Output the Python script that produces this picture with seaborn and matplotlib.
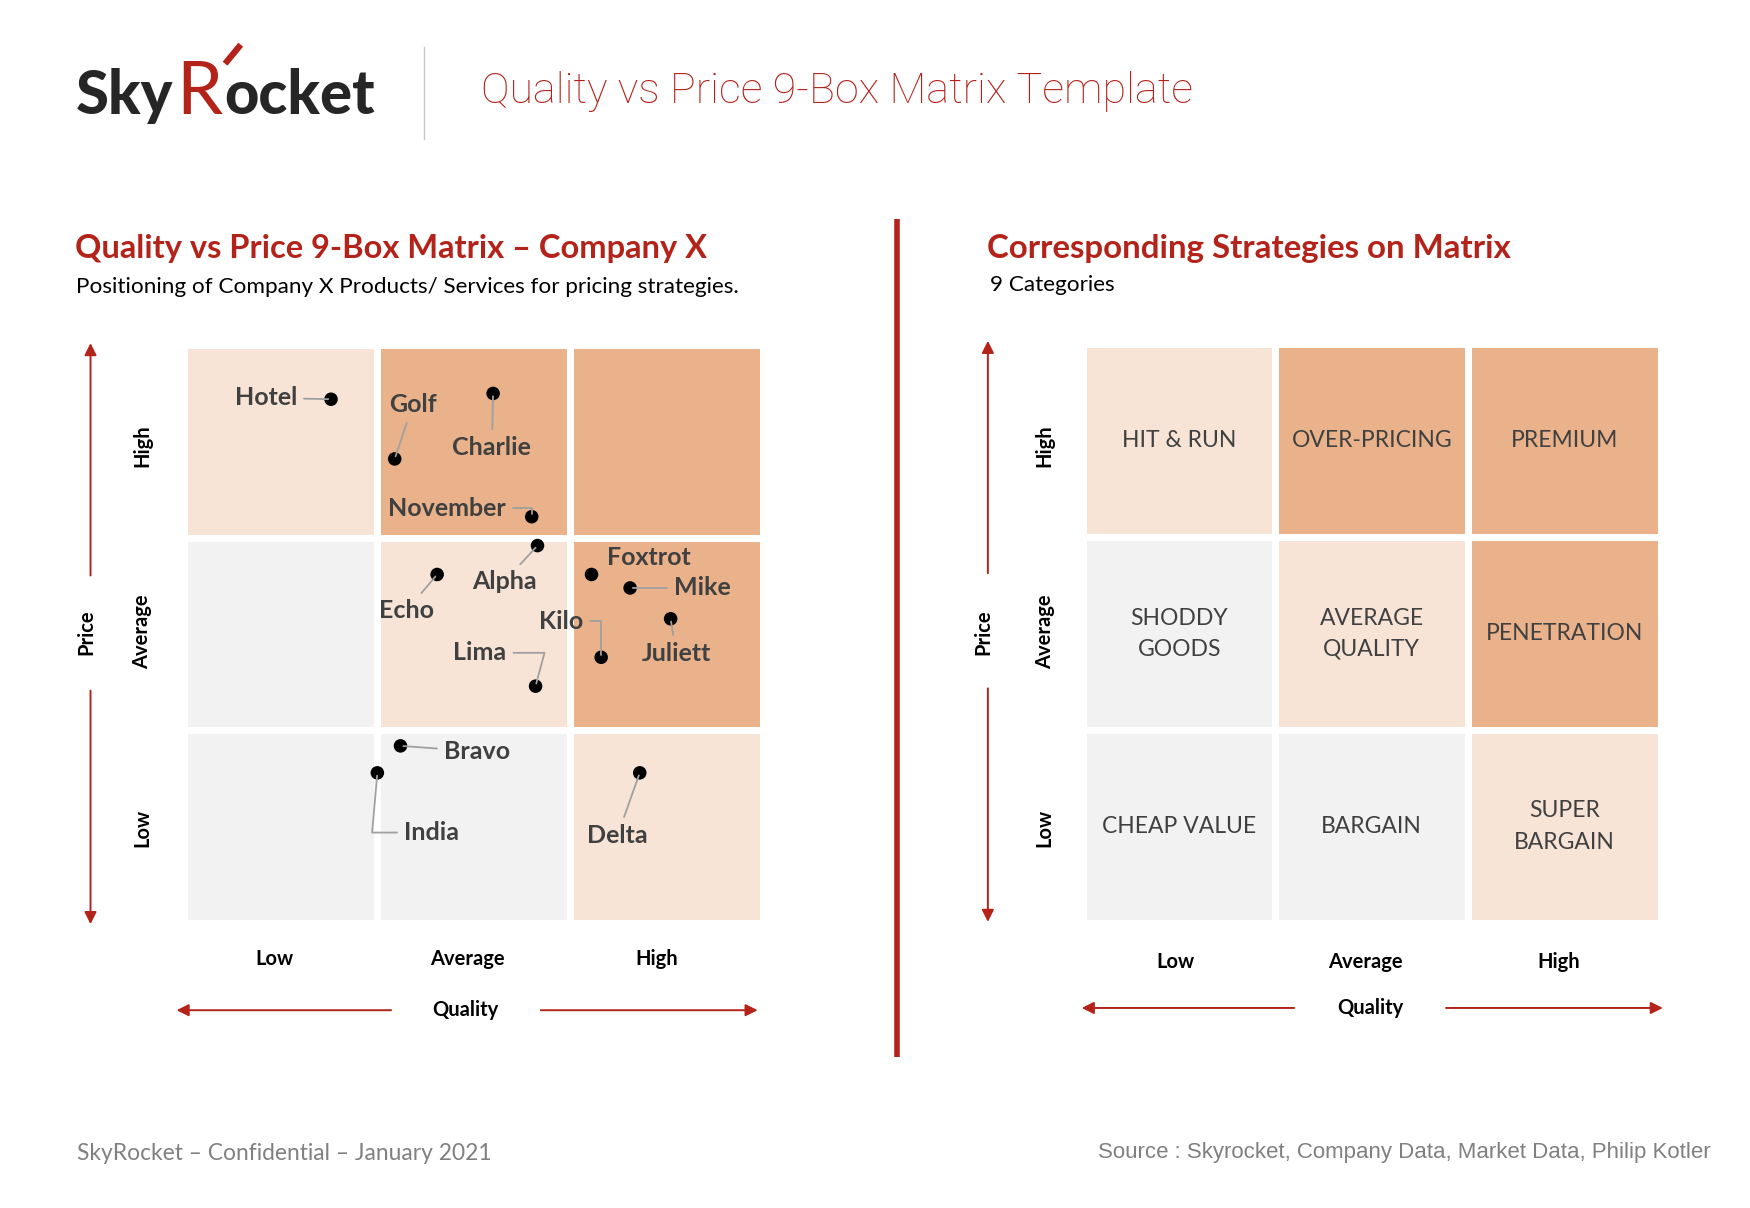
import numpy as np
import pandas as pd
import seaborn as sns
import matplotlib.pyplot as plt
from matplotlib.colors import ListedColormap

# ---- data ----
levels = ['Low', 'Average', 'High']
# cell shade per box, rows = price High..Low, cols = quality Low..High (0 grey, 1 light, 2 orange)
cell_shade = [[1, 2, 2],
              [0, 1, 2],
              [0, 0, 1]]
strategies = [['HIT & RUN', 'OVER-PRICING', 'PREMIUM'],
              ['SHODDY\nGOODS', 'AVERAGE\nQUALITY', 'PENETRATION'],
              ['CHEAP VALUE', 'BARGAIN', 'SUPER\nBARGAIN']]

products = ['Hotel', 'Golf', 'Charlie', 'November', 'Alpha', 'Echo', 'Foxtrot',
            'Mike', 'Kilo', 'Juliett', 'Lima', 'Bravo', 'India', 'Delta']
# quality and price on a 0-3 scale (0-1 low, 1-2 average, 2-3 high)
quality = [0.76, 1.09, 1.60, 1.80, 1.83, 1.31, 2.11, 2.31, 2.16, 2.52, 1.82, 1.12, 1.00, 2.36]
price = [2.72, 2.41, 2.75, 2.11, 1.96, 1.81, 1.81, 1.74, 1.38, 1.58, 1.23, 0.92, 0.78, 0.78]

# label placement (offset in points from the dot, leader line style)
label_pos = {
    'Hotel': ((-47, 1), 'arc3'),
    'Golf': ((13, 39), 'arc3'),
    'Charlie': ((-1, -39), 'arc3'),
    'November': ((-61, 6), 'angle,angleA=0,angleB=90,rad=0'),
    'Alpha': ((-24, -26), 'arc3'),
    'Echo': ((-22, -26), 'arc3'),
    'Foxtrot': ((41, 12), None),
    'Mike': ((52, 0), 'arc3'),
    'Kilo': ((-29, 26), 'angle,angleA=0,angleB=90,rad=0'),
    'Juliett': ((4, -25), 'arc3'),
    'Lima': ((-40, 24), 'angle,angleA=0,angleB=75,rad=0'),
    'Bravo': ((55, -4), 'arc3'),
    'India': ((39, -43), 'angle,angleA=0,angleB=85,rad=0'),
    'Delta': ((-16, -45), 'arc3'),
}

RED = '#B3231A'
GREY_BOX = '#F2F2F2'
LIGHT_BOX = '#F7E4D7'
ORANGE_BOX = '#E9B28A'
LABEL_GREY = '#404040'
FONT = 'Lato'

W, H = 1566, 1081  # layout grid used for placing text

fig = plt.figure(figsize=(17.5, 12.08), dpi=100)
fig.patch.set_facecolor('white')

# overlay axes for all free text and arrows
ov = fig.add_axes([0, 0, 1, 1], facecolor='none')
ov.set_xlim(0, W)
ov.set_ylim(H, 0)
ov.set_axis_off()

cmap = ListedColormap([GREY_BOX, LIGHT_BOX, ORANGE_BOX])
shade_df = pd.DataFrame(cell_shade, index=levels[::-1], columns=levels)


def box_axes(x0, y0, x1, y1):
    return fig.add_axes([x0 / W, 1 - y1 / H, (x1 - x0) / W, (y1 - y0) / H])


# ---- left matrix ----
axl = box_axes(165, 309, 683, 826)
sns.heatmap(shade_df, cmap=cmap, vmin=-0.5, vmax=2.5, cbar=False, linewidths=4.8,
            linecolor='white', xticklabels=False, yticklabels=False, ax=axl)
pts = pd.DataFrame({'name': products, 'quality': quality, 'row': [3 - p for p in price]})
sns.scatterplot(data=pts, x='quality', y='row', color='black', s=95, edgecolor='none',
                ax=axl, zorder=5)
axl.set_xlim(0, 3)
axl.set_ylim(3, 0)
axl.set_axis_off()
for _, r in pts.iterrows():
    off, style = label_pos[r['name']]
    props = None
    if style is not None:
        props = dict(arrowstyle='-', color='#A0A0A0', lw=1.3, connectionstyle=style,
                     shrinkA=3, shrinkB=2)
    axl.annotate(r['name'], xy=(r['quality'], r['row']), xytext=off, textcoords='offset points',
                 ha='center', va='center', fontsize=18, fontweight='bold', color=LABEL_GREY,
                 family=FONT, arrowprops=props, zorder=6)

# ---- right matrix ----
axr = box_axes(969, 308, 1486, 826)
sns.heatmap(shade_df, cmap=cmap, vmin=-0.5, vmax=2.5, cbar=False, linewidths=4.8,
            linecolor='white', xticklabels=False, yticklabels=False, ax=axr,
            annot=np.array(strategies), fmt='',
            annot_kws=dict(fontsize=16.5, color=LABEL_GREY, family=FONT, linespacing=1.6))
axr.set_axis_off()


# ---- axis decorations ----
def axis_decor(price_x, row_lbl_x, col_xs, col_y, qual_y, qual_x, arr_v, arr_h):
    for lab, y in zip(levels[::-1], [399, 565, 741]):
        ov.text(row_lbl_x, y, lab, rotation=90, ha='center', va='center', fontsize=14.5,
                fontweight='bold', family=FONT, color='black')
    ov.text(price_x - 4, 566, 'Price', rotation=90, ha='center', va='center', fontsize=14.5,
            fontweight='bold', family=FONT, color='black')
    for lab, x in zip(levels, col_xs):
        ov.text(x, col_y, lab, ha='center', va='center', fontsize=14.5, fontweight='bold',
                family=FONT, color='black')
    ov.text(qual_x, qual_y, 'Quality', ha='center', va='center', fontsize=14.5,
            fontweight='bold', family=FONT, color='black')
    ap = dict(arrowstyle='-|>', color=RED, lw=1.4, mutation_scale=18, shrinkA=0, shrinkB=0)
    (v0, v1, v2, v3), (h0, h1, h2, h3) = arr_v, arr_h
    ov.annotate('', xy=(price_x, v0), xytext=(price_x, v1), arrowprops=ap)
    ov.annotate('', xy=(price_x, v3), xytext=(price_x, v2), arrowprops=ap)
    ov.annotate('', xy=(h0, qual_y), xytext=(h1, qual_y), arrowprops=ap)
    ov.annotate('', xy=(h3, qual_y), xytext=(h2, qual_y), arrowprops=ap)


axis_decor(81, 127, [246, 418, 588], 858, 904, 416, (307, 515, 618, 827), (158, 350, 484, 678))
axis_decor(884, 935, [1052, 1222, 1395], 861, 902, 1226, (305, 513, 616, 825), (968, 1158, 1294, 1488))

# ---- headings ----
ov.text(67, 222, 'Quality vs Price 9-Box Matrix \u2013 Company X', ha='left', va='center',
        fontsize=23.5, fontweight='bold', color=RED, family=FONT)
ov.text(68, 257, 'Positioning of Company X Products/ Services for pricing strategies.',
        ha='left', va='center', fontsize=16.2, color='black', family=FONT)
ov.text(883, 222, 'Corresponding Strategies on Matrix', ha='left', va='center',
        fontsize=23.8, fontweight='bold', color=RED, family=FONT)
ov.text(886, 255, '9 Categories', ha='left', va='center', fontsize=16.2, color='black', family=FONT)

ov.text(430, 82, 'Quality vs Price 9-Box Matrix Template', ha='left', va='center',
        fontsize=31, fontweight='light', color=RED, family='Roboto')
ov.plot([379, 379], [42, 124], color='#C8C8C8', lw=1)
ov.plot([803, 803], [196, 946], color=RED, lw=4, solid_capstyle='butt')

# ---- logo ----
fig.canvas.draw()
rend = fig.canvas.get_renderer()
inv = ov.transData.inverted()
t1 = ov.text(68, 102, 'Sky', ha='left', va='baseline', fontsize=43, fontweight='black',
             color='#262626', family=FONT)
x_end = inv.transform(t1.get_window_extent(rend))[1][0]
t2 = ov.text(x_end + 3, 102, 'R', ha='left', va='baseline', fontsize=53, fontweight='normal',
             color=RED, family=FONT)
x_end2 = inv.transform(t2.get_window_extent(rend))[1][0]
ov.text(x_end2 + 1, 102, 'ocket', ha='left', va='baseline', fontsize=43, fontweight='black',
        color='#262626', family=FONT)
ov.plot([x_end2 + 2, x_end2 + 16], [57, 40], color=RED, lw=4.5, solid_capstyle='butt')

# ---- footer ----
ov.text(69, 1032, 'SkyRocket \u2013 Confidential \u2013 January 2021', ha='left', va='center',
        fontsize=16.4, color='#808080', family=FONT)
ov.text(1531, 1031, 'Source : Skyrocket, Company Data, Market Data, Philip Kotler', ha='right',
        va='center', fontsize=16, color='#808080', family=['Liberation Sans Narrow', 'Liberation Sans'])

fig.savefig('out.png', dpi=100, facecolor='white')
